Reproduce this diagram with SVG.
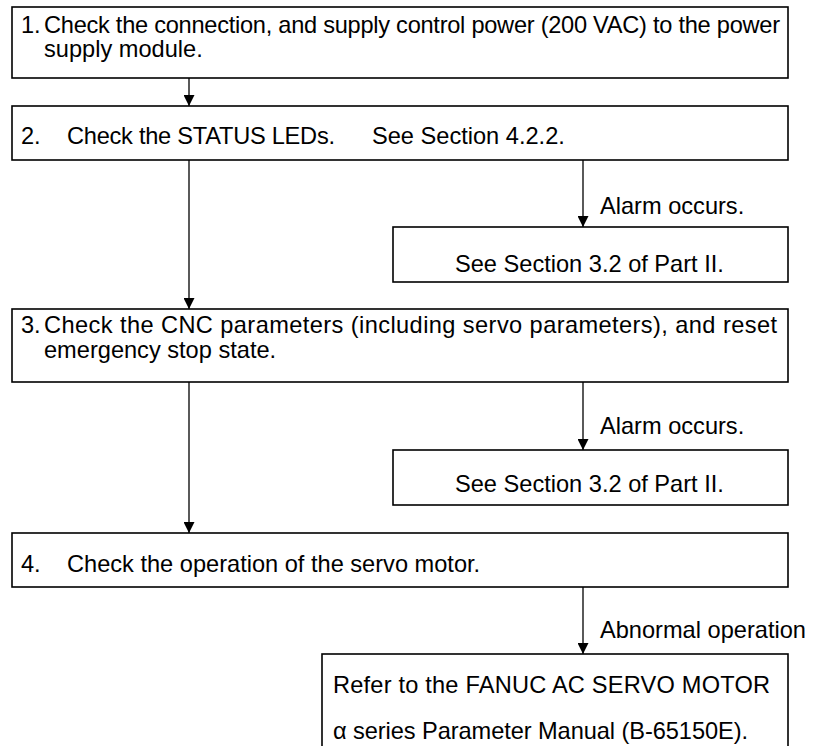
<svg xmlns="http://www.w3.org/2000/svg" width="818" height="746" viewBox="0 0 818 746">
<style>
.box{fill:#fff;stroke:#000;stroke-width:1.6}
.t{font-family:"Liberation Sans",Arial,sans-serif;font-size:23.6px;fill:#000}
.c{stroke:#000;stroke-width:1.3;fill:none;marker-end:url(#ah)}
</style>
<defs>
<marker id="ah" markerWidth="11" markerHeight="11" refX="10" refY="5" orient="auto" markerUnits="userSpaceOnUse" viewBox="0 0 10 10"><path d="M0,0 L10,5 L0,10 z" fill="#000"/></marker>
</defs>
<rect width="818" height="746" fill="#fff"/>
<g id="connectors">
<line class="c" x1="189" y1="78" x2="189" y2="106"/>
<line class="c" x1="583" y1="160" x2="583" y2="227"/>
<line class="c" x1="189" y1="160" x2="189" y2="309"/>
<line class="c" x1="583" y1="382" x2="583" y2="450"/>
<line class="c" x1="189" y1="382" x2="189" y2="533"/>
<line class="c" x1="583" y1="587" x2="583" y2="654"/>
<text class="t" x="600" y="214">Alarm occurs.</text>
<text class="t" x="600" y="434">Alarm occurs.</text>
<text class="t" x="600" y="638">Abnormal operation</text>
</g>
<g id="n1">
<rect class="box" x="12" y="7" width="776" height="71"/>
<text class="t" x="21" y="33">1.</text>
<text class="t" x="44" y="33" textLength="736" lengthAdjust="spacing">Check the connection, and supply control power (200 VAC) to the power</text>
<text class="t" x="44" y="57">supply module.</text>
</g>
<g id="n2">
<rect class="box" x="12" y="106" width="776" height="54"/>
<text class="t" x="21" y="144">2.</text>
<text class="t" x="67" y="144" textLength="268" lengthAdjust="spacing">Check the STATUS LEDs.</text>
<text class="t" x="372" y="144">See Section 4.2.2.</text>
</g>
<g id="n3">
<rect class="box" x="393" y="227" width="395" height="55"/>
<text class="t" x="455" y="272">See Section 3.2 of Part II.</text>
</g>
<g id="n4">
<rect class="box" x="12" y="309" width="776" height="73"/>
<text class="t" x="21" y="333">3.</text>
<text class="t" x="44" y="333" textLength="733" lengthAdjust="spacing">Check the CNC parameters (including servo parameters), and reset</text>
<text class="t" x="44" y="358">emergency stop state.</text>
</g>
<g id="n5">
<rect class="box" x="393" y="450" width="395" height="55"/>
<text class="t" x="455" y="492">See Section 3.2 of Part II.</text>
</g>
<g id="n6">
<rect class="box" x="12" y="533" width="776" height="54"/>
<text class="t" x="21" y="572">4.</text>
<text class="t" x="67" y="572">Check the operation of the servo motor.</text>
</g>
<g id="n7">
<rect class="box" x="322" y="654" width="466" height="110"/>
<text class="t" x="333" y="693" textLength="437" lengthAdjust="spacing">Refer to the FANUC AC SERVO MOTOR</text>
<text class="t" x="333" y="739" textLength="415" lengthAdjust="spacing">α series Parameter Manual (B-65150E).</text>
</g>
</svg>
